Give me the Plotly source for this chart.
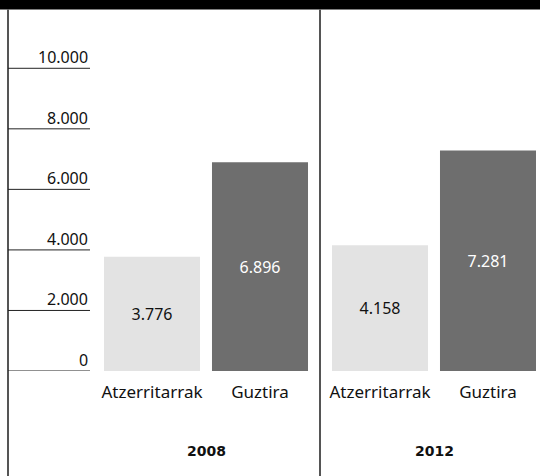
import plotly.graph_objects as go

years = ["2008", "2012"]
categories = ["Atzerritarrak", "Guztira"]
values_2008 = [3776, 6896]
values_2012 = [4158, 7281]
tick_values = [0, 2000, 4000, 6000, 8000, 10000]
tick_labels = ["0", "2.000", "4.000", "6.000", "8.000", "10.000"]

W, H = 540, 476
bar_colors = ["#e3e3e3", "#6e6e6e"]
text_colors = ["#111111", "#ffffff"]
FONT = "Noto Sans"

fig = go.Figure()
for i, (vals, xa) in enumerate([(values_2008, "x"), (values_2012, "x2")]):
    fig.add_trace(go.Bar(
        x=categories, y=vals, xaxis=xa, yaxis="y",
        marker=dict(color=bar_colors, line=dict(width=0)),
        texttemplate="%{y:,}", textposition="inside", insidetextanchor="middle",
        textfont=dict(family=FONT, size=16, color=text_colors),
        showlegend=False, hoverinfo="skip", cliponaxis=False,
    ))

ydom0 = 105 / H
xaxis_common = dict(showgrid=False, zeroline=False, showline=False, ticks="",
                    ticklabelstandoff=9,
                    tickfont=dict(family=FONT, size=17, color="#111111"))
fig.update_layout(
    width=W, height=H,
    margin=dict(l=0, r=0, t=0, b=0),
    paper_bgcolor="white", plot_bgcolor="white",
    separators=",.",
    bargap=0.111,
    font=dict(family=FONT, color="#111111"),
    xaxis=dict(domain=[98 / W, 314 / W], range=[-0.5, 1.5], anchor="y", **xaxis_common),
    xaxis2=dict(domain=[326 / W, 1], range=[-0.5, 1.4815], anchor="y", **xaxis_common),
    yaxis=dict(domain=[ydom0, 1], range=[0, 12256], showgrid=False,
               zeroline=False, showline=False, showticklabels=False, ticks=""),
)

shapes = []
# black band on top
shapes.append(dict(type="rect", xref="paper", yref="paper", x0=0, x1=1,
                   y0=(H - 9.5) / H, y1=1, fillcolor="black", line=dict(width=0), layer="above"))
# vertical separator lines
for xp in [8, 320]:
    shapes.append(dict(type="line", xref="paper", yref="paper", x0=xp / W, x1=xp / W,
                       y0=0, y1=(H - 9.5) / H, line=dict(color="#555555", width=2)))
# tick lines
for tv in tick_values:
    shapes.append(dict(type="line", xref="paper", yref="y", x0=8 / W, x1=90 / W,
                       y0=tv, y1=tv, line=dict(color="#222222", width=1)))
fig.update_layout(shapes=shapes)

annotations = []
for tv, tl in zip(tick_values, tick_labels):
    annotations.append(dict(xref="paper", yref="y", x=90 / W, y=tv, text=tl,
                            xanchor="right", yanchor="bottom", yshift=-2, showarrow=False,
                            font=dict(family=FONT, size=16, color="#111111")))
for yr, xa in zip(years, ["x", "x2"]):
    annotations.append(dict(xref=xa, yref="paper", x=0.5, y=(H - 451) / H, text="<b>" + yr + "</b>",
                            xanchor="center", yanchor="middle", showarrow=False,
                            font=dict(family="DejaVu Sans", size=14, color="#111111")))
fig.update_layout(annotations=annotations)

fig.write_html("out.html", config={"displayModeBar": False},
               post_script="document.body.style.margin='0';")
